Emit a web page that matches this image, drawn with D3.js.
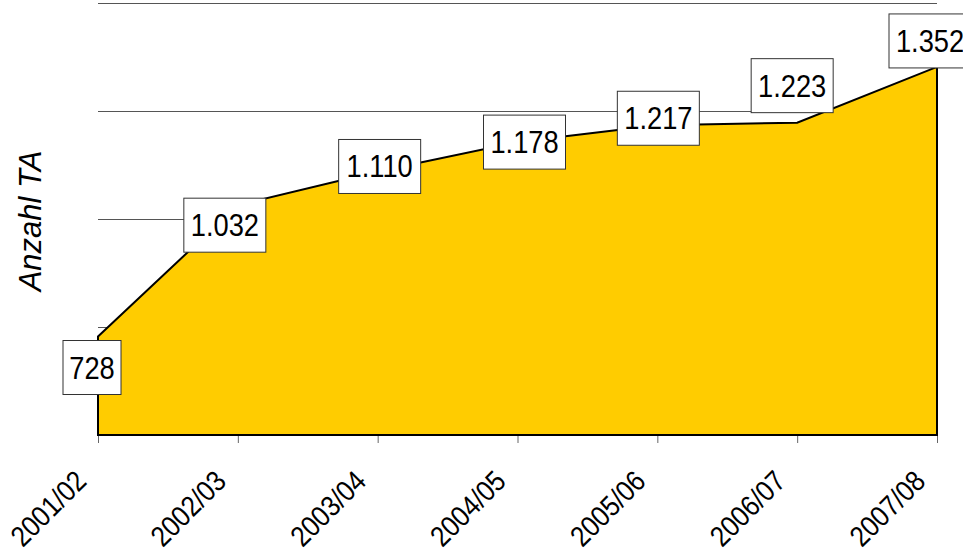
<!DOCTYPE html>
<html>
<head>
<meta charset="utf-8">
<script src="https://cdn.jsdelivr.net/npm/d3@7"></script>
<style>
    html, body { margin: 0; padding: 0; background: #fff; }
    svg { display: block; font-family: "Liberation Sans", Arial, sans-serif; }
</style>
</head>
<body>
<svg id="chart" width="963" height="554"></svg>
<script>
    //----- DATA ---------------------------------------//
    var categories = ['2001/02', '2002/03', '2003/04', '2004/05', '2005/06', '2006/07', '2007/08'];
    var values = [728, 1032, 1110, 1178, 1217, 1223, 1352];
    var gridValues = [750, 1000, 1250, 1500];

    //----- SETTINGS -----------------------------------//
    var X_LEFT = 98,
        X_RIGHT = 937,
        Y_BOTTOM = 435,
        Y_TOP = 3,
        BOX_W = 82,
        BOX_H = 54,
        FILL = '#FFCC00';

    // hand placement of the value boxes, relative to each point
    var LABEL_NUDGE = [[-6, 31], [-13, 20], [2, -5], [7, 0], [1, -7], [-5, -37], [-7, -26]];

    var de = d3.formatLocale({ decimal: ',', thousands: '.', grouping: [3], currency: ['', ' €'] });
    var fmt = de.format(',d');

    var svg = d3.select('#chart');

    var x = d3.scalePoint().domain(categories).range([X_LEFT, X_RIGHT]);
    var y = d3.scaleLinear().domain([500, 1500]).range([Y_BOTTOM, Y_TOP]);

    var data = categories.map(function (c, i) { return { cat: c, value: values[i], i: i }; });

    //----- GRIDLINES ----------------------------------//
    svg.append('g').selectAll('line')
        .data(gridValues).enter()
        .append('line')
            .attr('x1', X_LEFT)
            .attr('x2', X_RIGHT)
            .attr('y1', function (d) { return Math.round(y(d)) + 0.5; })
            .attr('y2', function (d) { return Math.round(y(d)) + 0.5; })
            .attr('stroke', '#555')
            .attr('stroke-width', 1);

    //----- X AXIS -------------------------------------//
    var xAxis = svg.append('g')
        .attr('transform', 'translate(0,' + Y_BOTTOM + ')')
        .call(d3.axisBottom(x).tickSize(8).tickSizeOuter(0).tickFormat(''));
    xAxis.select('.domain').attr('stroke', '#666');
    xAxis.selectAll('.tick line').attr('stroke', '#666');

    //----- AREA ---------------------------------------//
    var area = d3.area()
        .x(function (d) { return x(d.cat); })
        .y0(Y_BOTTOM)
        .y1(function (d) { return y(d.value); });

    svg.append('path')
        .datum(data)
        .attr('d', area)
        .attr('fill', FILL)
        .attr('stroke', '#000')
        .attr('stroke-width', 2)
        .attr('stroke-linejoin', 'miter');

    //----- CATEGORY LABELS ----------------------------//
    svg.append('g').selectAll('text')
        .data(categories).enter()
        .append('text')
            .attr('transform', function (d) {
                return 'translate(' + (x(d) - 10) + ',' + (Y_BOTTOM + 48) + ') rotate(-45) scale(0.88,1)';
            })
            .attr('text-anchor', 'end')
            .attr('font-size', 29)
            .attr('fill', '#000')
            .text(function (d) { return d; });

    //----- Y AXIS TITLE -------------------------------//
    svg.append('text')
        .attr('transform', 'translate(41,221) rotate(-90)')
        .attr('text-anchor', 'middle')
        .attr('font-size', 31)
        .attr('font-style', 'italic')
        .attr('fill', '#000')
        .text('Anzahl TA');

    //----- VALUE BOXES --------------------------------//
    var labels = svg.append('g').selectAll('g')
        .data(data).enter()
        .append('g')
            .attr('transform', function (d) {
                var n = LABEL_NUDGE[d.i];
                return 'translate(' + (x(d.cat) + n[0]) + ',' + (y(d.value) + n[1]) + ')';
            });

    labels.append('rect')
        .attr('x', function (d) { return d.value < 1000 ? -29 : -BOX_W / 2; })
        .attr('y', -BOX_H / 2)
        .attr('width', function (d) { return d.value < 1000 ? 58 : BOX_W; })
        .attr('height', BOX_H)
        .attr('fill', '#fff')
        .attr('stroke', '#333')
        .attr('stroke-width', 1);

    labels.append('text')
        .attr('transform', 'scale(0.88,1)')
        .attr('text-anchor', 'middle')
        .attr('y', 11)
        .attr('font-size', 31)
        .attr('fill', '#000')
        .text(function (d) { return fmt(d.value); });
</script>
</body>
</html>
